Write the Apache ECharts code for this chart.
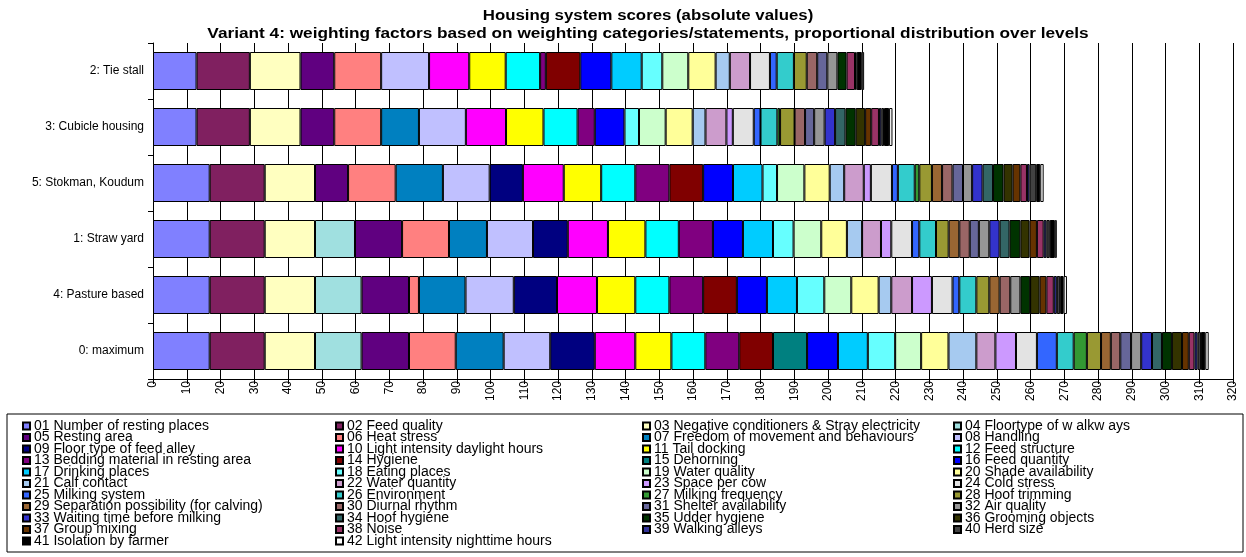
<!DOCTYPE html>
<html>
<head>
<meta charset="utf-8">
<script src="https://cdn.jsdelivr.net/npm/echarts@6/dist/echarts.min.js"></script>
<style>
html,body{margin:0;padding:0;background:#fff;}
#chart{width:1246px;height:557px;}
</style>
</head>
<body>
<div id="chart"></div>
<script>
// Categories, top to bottom
const categories = ['2: Tie stall', '3: Cubicle housing', '5: Stokman, Koudum', '1: Straw yard', '4: Pasture based', '0: maximum'];

const seriesNames = [
  '01 Number of resting places', '02 Feed quality', '03 Negative conditioners & Stray electricity', '04 Floortype of w alkw ays',
  '05 Resting area', '06 Heat stress', '07 Freedom of movement and behaviours', '08 Handling',
  '09 Floor type of feed alley', '10 Light intensity daylight hours', '11 Tail docking', '12 Feed structure',
  '13 Bedding material in resting area', '14 Hygiene', '15 Dehorning', '16 Feed quantity',
  '17 Drinking places', '18 Eating places', '19 Water quality', '20 Shade availability',
  '21 Calf contact', '22 Water quantity', '23 Space per cow', '24 Cold stress',
  '25 Milking system', '26 Environment', '27 Milking frequency', '28 Hoof trimming',
  '29 Separation possibility (for calving)', '30 Diurnal rhythm', '31 Shelter availability', '32 Air quality',
  '33 Waiting time before milking', '34 Hoof hygiene', '35 Udder hygiene', '36 Grooming objects',
  '37 Group mixing', '38 Noise', '39 Walking alleys', '40 Herd size',
  '41 Isolation by farmer', '42 Light intensity nighttime hours'
];

const seriesColors = [
  '#8080FF', '#802060', '#FFFFC0', '#A0E0E0',
  '#600080', '#FF8080', '#0080C0', '#C0C0FF',
  '#000080', '#FF00FF', '#FFFF00', '#00FFFF',
  '#800080', '#800000', '#008080', '#0000FF',
  '#00CCFF', '#66FFFF', '#CCFFCC', '#FFFF99',
  '#A6CAF0', '#CC9CCC', '#CC99FF', '#E3E3E3',
  '#3366FF', '#33CCCC', '#339933', '#999933',
  '#996633', '#996666', '#666699', '#969696',
  '#3333CC', '#336666', '#003300', '#333300',
  '#663300', '#993366', '#333399', '#424242',
  '#000000', '#FFFFFF'
];

// Values per housing system, series 01..42
const tieStall = [12.9,15.8,15.0,0,10.0,13.9,0,14.2,0,11.9, 10.8,10.2,1.7,10.2,0,9.2,9.0,6.1,7.7,8.1, 4.2,6.0,0,5.9,2.0,5.1,0,3.8,0,3.1, 3.0,3.0,0,0,2.7,0,0,2.5,0,0.5, 1.5,0.7];
const cubicleHousing = [12.9,15.8,15.0,0,10.0,13.9,11.2,13.9,0,11.9, 11.1,10.1,5.1,0,0,8.8,0,4.3,7.9,8.0, 3.8,6.2,1.9,6.2,2.0,5.0,0.8,4.3,0,3.1, 2.7,3.1,3.1,3.1,3.0,2.8,1.8,2.3,0.7,0.8, 1.5,1.0];
const stokmanKoudum = [16.8,16.3,14.9,0,9.8,14.1,14.0,13.85,9.85,12.1, 11.1,10.1,10.1,10.0,0,8.85,8.75,4.3,8.1,7.5, 4.3,5.8,2.1,6.25,1.75,5.0,1.35,3.75,3.0,3.1, 3.1,2.7,3.1,3.1,3.1,2.7,2.3,1.95,0.75,2.0, 1.2,1.0];
const strawYard = [16.8,16.3,14.9,11.85,13.95,13.9,11.25,13.65,10.3,11.9, 11.1,9.9,10.1,0,0,8.9,8.9,6.1,8.2,7.6, 4.5,5.6,3.05,6.15,2.15,4.95,0,3.75,3.15,3.1, 2.7,3.1,3.05,2.95,3.2,2.7,2.2,2.0,0.8,1.0, 1.5,0.6];
const pastureBased = [16.8,16.3,14.9,13.8,14.05,2.95,13.8,14.3,12.8,11.85, 11.35,10.1,10.0,10.0,0,8.9,8.9,8.1,8.0,8.1, 3.75,6.15,5.9,6.1,2.0,5.05,0,3.85,3.05,3.15, 0,3.0,0,0,2.9,2.8,2.0,2.2,0.9,1.0, 1.0,1.0];
const maximum = [16.8,16.3,14.9,13.8,14.05,13.85,14.2,13.8,13.2,12.0, 10.7,10.05,10.05,10.0,10.1,9.15,8.85,8.1,7.7,8.1, 8.25,5.65,6.1,6.2,5.9,5.0,3.9,4.2,2.9,2.8, 3.2,3.0,3.2,2.95,2.95,3.0,2.0,1.7,0.9,1.0, 1.3,1.0];

const rows = [tieStall, cubicleHousing, stokmanKoudum, strawYard, pastureBased, maximum];

const titleLine1 = 'Housing system scores (absolute values)';
const titleLine2 = 'Variant 4: weighting factors based on weighting categories/statements, proportional distribution over levels';

const FONT = 'Liberation Sans, Arial, sans-serif';

const series = seriesNames.map((name, i) => ({
  name: name,
  type: 'bar',
  stack: 'total',
  barWidth: 38,
  data: rows.map(r => (r[i] === 0 ? null : r[i])),
  itemStyle: { color: seriesColors[i], borderColor: '#000', borderWidth: 1 },
  emphasis: { disabled: true }
}));

const colLefts = [22, 335, 642, 953];
const legends = colLefts.map((left, c) => ({
  orient: 'vertical',
  left: left,
  top: 419,
  height: 140,
  padding: 0,
  itemGap: -2.5,
  itemWidth: 7,
  itemHeight: 7,
  icon: 'rect',
  selectedMode: false,
  data: seriesNames.filter((n, i) => i % 4 === c),
  textStyle: { fontFamily: FONT, fontSize: 14, color: '#000', padding: [0, 0, 0, -1] }
}));

const chart = echarts.init(document.getElementById('chart'), null, { renderer: 'canvas' });
chart.setOption({
  animation: false,
  backgroundColor: '#fff',
  legend: legends,
  graphic: [
    {
      type: 'text', x: 648, y: 16, scaleX: 1.2, silent: true,
      style: { text: titleLine1, textAlign: 'center', textVerticalAlign: 'middle', font: 'bold 14px Liberation Sans, Arial, sans-serif', fill: '#000' }
    },
    {
      type: 'text', x: 648, y: 34, scaleX: 1.23, silent: true,
      style: { text: titleLine2, textAlign: 'center', textVerticalAlign: 'middle', font: 'bold 14px Liberation Sans, Arial, sans-serif', fill: '#000' }
    },
    {
      type: 'rect',
      shape: { x: 7, y: 414, width: 1236, height: 138 },
      style: { fill: 'none', stroke: '#000', lineWidth: 1 },
      silent: true
    }
  ],
  grid: { left: 153, right: 13, top: 43, bottom: 178, containLabel: false },
  xAxis: {
    type: 'value',
    min: 0,
    max: 320,
    interval: 10,
    axisLine: { show: true, lineStyle: { color: '#000', width: 1 } },
    axisTick: { show: true, length: 5, lineStyle: { color: '#000' } },
    axisLabel: { rotate: 90, fontFamily: FONT, fontSize: 12, color: '#000', margin: 2 },
    splitLine: { show: true, lineStyle: { color: '#000', width: 1 } }
  },
  yAxis: {
    type: 'category',
    inverse: true,
    data: categories,
    axisLine: { show: true, lineStyle: { color: '#000', width: 1 } },
    axisTick: { show: true, length: 5, lineStyle: { color: '#000' } },
    axisLabel: { fontFamily: FONT, fontSize: 12, color: '#000', margin: 9 }
  },
  series: series
});
</script>
</body>
</html>
